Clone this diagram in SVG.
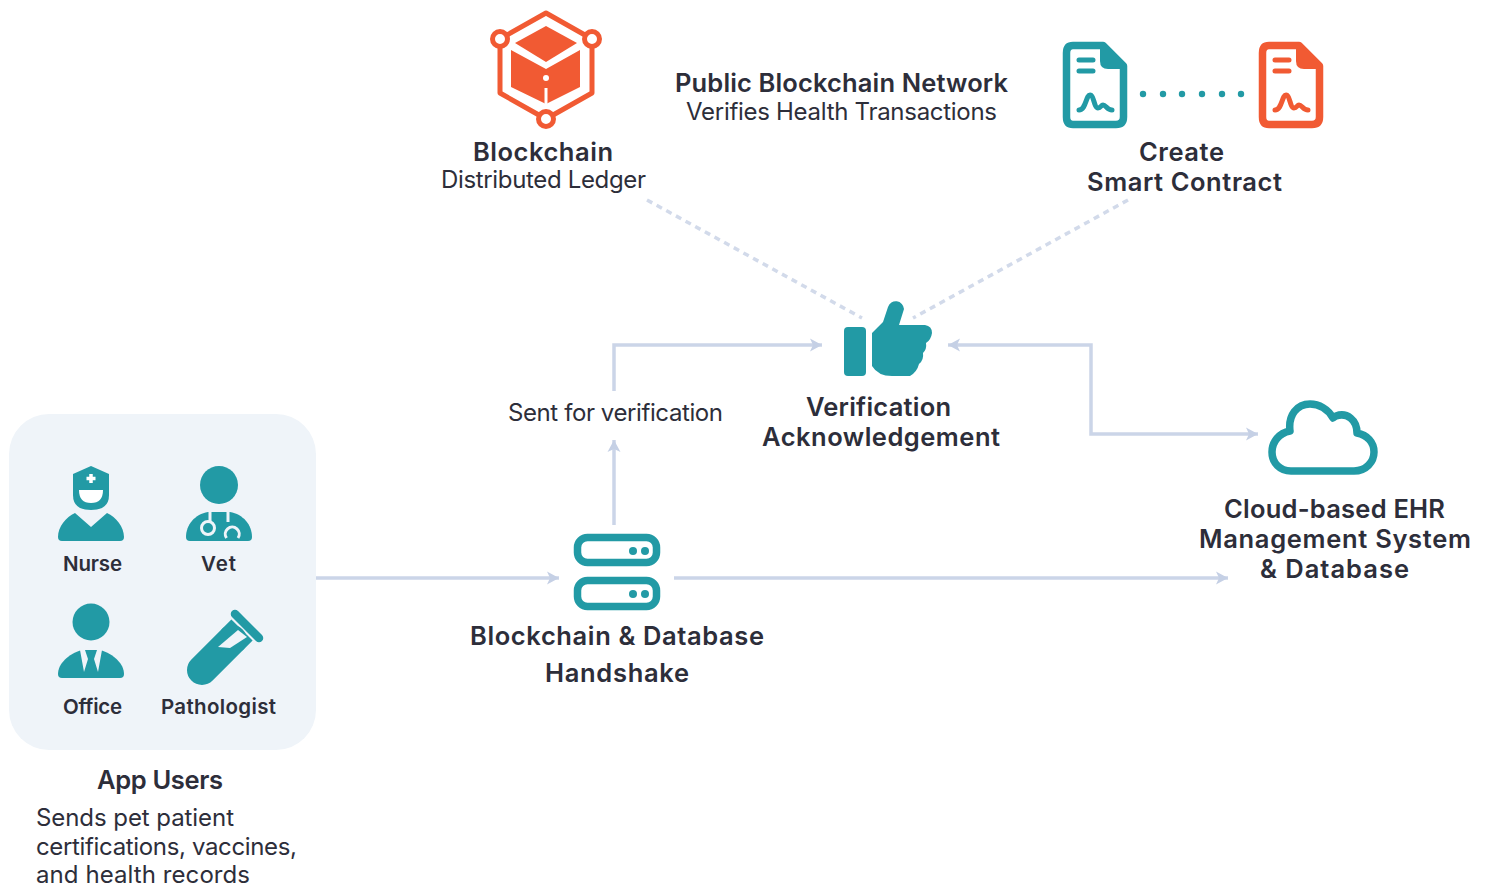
<svg xmlns="http://www.w3.org/2000/svg" width="1491" height="889" viewBox="0 0 1491 889">
<style>
text{font-family:"Inter","Noto Sans","Liberation Sans",sans-serif;fill:#2d2e3a}
.h{font-size:25.500px;font-weight:600}
.r{font-size:24px;font-weight:400}
.s{font-size:20.500px;font-weight:600}
.t{fill:#229aa5}
.o{fill:#f15a33}
.ts{fill:none;stroke:#229aa5}
.os{fill:none;stroke:#f15a33}
.p{fill:#eff4f9}
.c{fill:none;stroke:#cbd5e8;stroke-width:3.500}
.d{fill:none;stroke:#d2daea;stroke-width:3.500;stroke-dasharray:6 5}
</style>
<defs>
<marker id="a" markerUnits="userSpaceOnUse" markerWidth="16" markerHeight="16" refX="13" refY="8" orient="auto-start-reverse"><path d="M1,1.500 L13,8 L1,14.500 L4,8 Z" fill="#c5d0e5"/></marker>
<g id="doc">
<path d="M1073,45.500 H1103 L1123.500,66 V117 Q1123.500,124.500 1116,124.500 H1073 Q1066.500,124.500 1066.500,117 V53 Q1066.500,45.500 1073,45.500 Z" fill="#fff" stroke="currentColor" stroke-width="7.500" stroke-linejoin="round"/>
<path d="M1100,43 L1126,69 H1108 Q1100,69 1100,61 Z" fill="currentColor"/>
<path d="M1079,60 H1093 M1079,71 H1093" stroke="currentColor" stroke-width="5" stroke-linecap="round" fill="none"/>
<path d="M1079,110 C1086,110 1086,95 1090,95 C1094,95 1094,108 1098,108 C1101,108 1101,105 1103,105 C1106,105 1107,110 1112,110" stroke="currentColor" stroke-width="5" stroke-linecap="round" fill="none"/>
</g>
</defs>

<g id="connectors">
<path class="d" d="M647,200 L862,318"/>
<path class="d" d="M1128,200 L913,318"/>
<path class="c" d="M614,391 V345 H822" marker-end="url(#a)"/>
<path class="c" d="M614,525 V440" marker-end="url(#a)"/>
<path class="c" d="M316,578 H559" marker-end="url(#a)"/>
<path class="c" d="M674,578 H1228" marker-end="url(#a)"/>
<path class="c" d="M948,345 H1091 V434 H1258" marker-start="url(#a)" marker-end="url(#a)"/>
</g>

<g id="blockchain">
<path class="os" stroke-width="5" d="M546,13 L592,39 V93 L546,119 L500,93 V39 Z" stroke-linejoin="round"/>
<circle cx="500" cy="39" r="7.500" fill="#fff" stroke="#f15a33" stroke-width="5"/>
<circle cx="592" cy="39" r="7.500" fill="#fff" stroke="#f15a33" stroke-width="5"/>
<circle cx="546" cy="119" r="7.500" fill="#fff" stroke="#f15a33" stroke-width="5"/>
<path class="o" d="M546,26 L577,43 L546,62 L515,43 Z"/>
<path class="o" d="M511,50 L546,69 L580,50 V87 L546,104 L511,87 Z"/>
<circle cx="546" cy="78" r="3" fill="#fff"/>
<path d="M546,88 V104" stroke="#fff" stroke-width="3"/>
<text class="h" x="473" y="161" textLength="140">Blockchain</text>
<text class="r" x="441" y="188" textLength="205">Distributed Ledger</text>
</g>

<g id="network">
<text class="h" x="675" y="92" textLength="333">Public Blockchain Network</text>
<text class="r" x="686" y="120" textLength="311">Verifies Health Transactions</text>
</g>

<g id="smart-contract">
<use href="#doc" style="color:#229aa5"/>
<use href="#doc" x="196" style="color:#f15a33"/>
<g class="t"><circle cx="1143" cy="94" r="3.200"/><circle cx="1163" cy="94" r="3.200"/><circle cx="1182" cy="94" r="3.200"/><circle cx="1202" cy="94" r="3.200"/><circle cx="1222" cy="94" r="3.200"/><circle cx="1241" cy="94" r="3.200"/></g>
<text class="h" x="1139" y="161" textLength="85">Create</text>
<text class="h" x="1087" y="191" textLength="195">Smart Contract</text>
</g>

<g id="verification">
<rect class="t" x="844" y="327" width="22" height="49" rx="4"/>
<path class="t" d="M872,333 L883,322 L888,307 A8.200,8.200 0 0 1 904,309 L899,325 H925 Q932,326 932,333 Q931,340 926,343 Q927,349 923,353 Q924,360 919,364 Q917,372 910,376 H892 Q878,376 872,366 Z"/>
<text class="h" x="806" y="416" textLength="145">Verification</text>
<text class="h" x="762" y="446" textLength="238">Acknowledgement</text>
<text class="r" x="508" y="421" textLength="215">Sent for verification</text>
</g>

<g id="cloud">
<path class="ts" stroke-width="7.500" stroke-linejoin="round" d="M1291,471 H1354 C1366,471 1374,462 1374,452 C1374,442 1367,435 1357,433 C1357,420 1347,412 1336,416 L1333,418 C1328,409 1319,404 1310,404 C1297,404 1288,415 1290,431 C1279,433 1272,442 1272,452 C1272,463 1280,471 1291,471 Z"/>
<text class="h" x="1224" y="518" textLength="221">Cloud-based EHR</text>
<text class="h" x="1199" y="548" textLength="272">Management System</text>
<text class="h" x="1260" y="578" textLength="149">&amp; Database</text>
</g>

<g id="handshake">
<rect class="ts" stroke-width="7.500" x="577.500" y="537.500" width="79" height="25" rx="10"/>
<rect class="ts" stroke-width="7.500" x="577.500" y="580.500" width="79" height="26" rx="10"/>
<g class="t"><circle cx="633" cy="551" r="4"/><circle cx="645" cy="551" r="4"/><circle cx="633" cy="594" r="4"/><circle cx="645" cy="594" r="4"/></g>
<text class="h" x="470" y="645" textLength="294">Blockchain &amp; Database</text>
<text class="h" x="545" y="682" textLength="144">Handshake</text>
</g>

<g id="app-users">
<rect class="p" x="9" y="414" width="307" height="336" rx="40"/>
<text class="h" x="97" y="789" textLength="126">App Users</text>
<text class="r" x="36" y="826" textLength="198">Sends pet patient</text>
<text class="r" x="36" y="855" textLength="261">certifications, vaccines,</text>
<text class="r" x="36" y="883" textLength="214">and health records</text>
</g>

<g id="nurse">
<path class="t" d="M73,474 L91,466 L109,474 V495 Q109,510 91,510 Q73,510 73,495 Z"/>
<path d="M79,490 H103 Q103,503 91,503 Q79,503 79,490 Z" fill="#fff"/>
<path d="M91,474 V483 M86.500,478.500 H95.500" stroke="#fff" stroke-width="3.500"/>
<path class="t" d="M58,537 C58,527 66,517 75,513 L91,527 L107,513 C116,517 124,527 124,537 Q124,541 120,541 H62 Q58,541 58,537 Z"/>
<text class="s" x="63" y="571" textLength="59">Nurse</text>
</g>

<g id="vet">
<circle class="t" cx="219" cy="485" r="19"/>
<path class="t" d="M186,537 C186,525 195,514 208,512 H230 C243,514 252,525 252,537 Q252,541 248,541 H190 Q186,541 186,537 Z"/>
<path d="M210,512 V521 M228,512 V522" stroke="#eff4f9" stroke-width="3" fill="none"/>
<circle cx="208" cy="528" r="6.500" class="t" stroke="#eff4f9" stroke-width="3"/>
<path d="M226.500,538 A7,7 0 1 1 238,538" fill="none" stroke="#eff4f9" stroke-width="3"/>
<text class="s" x="201" y="571" textLength="35">Vet</text>
</g>

<g id="office">
<circle class="t" cx="91" cy="622" r="18.500"/>
<path class="t" d="M58,674 C58,664 68,654 82,650 H100 C114,654 124,664 124,674 Q124,678 120,678 H62 Q58,678 58,674 Z"/>
<path class="p" d="M80,650 H85 L88,659 L84,672 Z M102,650 H97 L94,659 L98,672 Z"/>
<text class="s" x="63" y="714" textLength="59">Office</text>
</g>

<g id="pathologist">
<path class="ts" stroke-width="30" stroke-linecap="round" d="M202,670 L232,640"/>
<path class="ts" stroke-width="30" d="M232,640 L242,630"/>
<path class="ts" stroke-width="8.500" stroke-linecap="round" d="M235,614 L259,638"/>
<path class="p" d="M238,630 L247,637 L230,648 L218,647 Z"/>
<text class="s" x="161" y="714" textLength="115">Pathologist</text>
</g>
</svg>
